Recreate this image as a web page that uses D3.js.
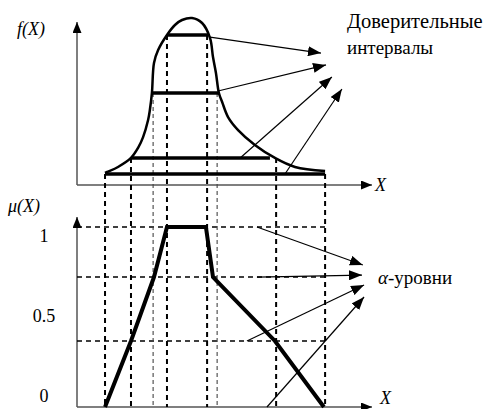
<!DOCTYPE html>
<html>
<head>
    <meta charset="utf-8">
    <script src="https://cdn.jsdelivr.net/npm/d3@7/dist/d3.min.js"></script>
    <style>
        body { margin: 0; background: #fff; }
    </style>
</head>
<body>
<div id="viz"></div>
<script>
// density curve f(X)
var curveX = [0.95, 1.02, 1.39, 1.83, 2.07, 2.24, 2.41, 2.47, 2.54, 2.61, 2.75, 3.05, 3.32, 3.56, 3.90,
              4.24, 4.51, 4.61, 4.71, 4.81, 4.92, 5.12, 5.46, 6.03, 6.71, 7.39, 8.41];
var curveF = [0.072, 0.078, 0.108, 0.162, 0.222, 0.287, 0.389, 0.449, 0.551, 0.731, 0.808, 0.898, 0.958, 0.988, 1.0,
              0.970, 0.880, 0.766, 0.671, 0.551, 0.497, 0.407, 0.329, 0.240, 0.162, 0.108, 0.084];

// confidence intervals (thick bars on the density)
var ciLevel = [0.898, 0.551, 0.162, 0.066];
var ciLeft  = [3.05, 2.54, 1.83, 0.95];
var ciRight = [4.44, 4.81, 6.54, 8.41];

// cut points projected down onto the membership function
var cutLeft  = [3.05, 2.58, 1.83, 0.95];
var cutRight = [4.41, 4.75, 6.75, 8.41];
var cutThin  = [false, true, false, false];

// alpha levels and membership function mu(X)
var alphaLevels = [1, 0.722, 0.367, 0];
var muX = [0.95, 1.83, 2.61, 3.05, 4.37, 4.61, 6.71, 8.37];
var muY = [0, 0.367, 0.722, 1, 1, 0.722, 0.367, 0];
var muTicks = [0, 0.5, 1];
var muTickLabels = ["0", "0.5", "1"];

// annotation arrows
var ciArrowFromX = [4.51, 4.78, 5.53, 7.05];
var ciArrowFromF = [0.886, 0.563, 0.162, 0.066];
var ciArrowToX   = [8.27, 8.44, 8.64, 8.98];
var ciArrowToF   = [0.790, 0.719, 0.647, 0.575];

var alphaArrowFromX  = [6.10, 6.10, 5.76, 6.44];
var alphaArrowFromMu = [1, 0.722, 0.367, 0];
var alphaArrowToX    = [9.69, 9.66, 9.73, 9.73];
var alphaArrowToMu   = [0.789, 0.733, 0.678, 0.611];

var W = 485, H = 409;
var SERIF = "'Liberation Serif', 'Times New Roman', Tinos, 'DejaVu Serif', serif";

var x  = d3.scaleLinear().domain([0, 10]).range([77, 372]);
var fy = d3.scaleLinear().domain([0, 1]).range([185, 18]);
var my = d3.scaleLinear().domain([0, 1]).range([407, 227]);
var labelY = d3.scaleLinear().domain([0, 1]).range([402, 242]);

var svg = d3.select("#viz").append("svg")
    .attr("width", W)
    .attr("height", H)
    .style("font-family", SERIF);

var defs = svg.append("defs");
defs.append("marker")
    .attr("id", "head")
    .attr("markerUnits", "userSpaceOnUse")
    .attr("markerWidth", 13).attr("markerHeight", 10)
    .attr("refX", 13).attr("refY", 5)
    .attr("orient", "auto")
    .append("path").attr("d", "M0,0 L13,5 L0,10 Z").attr("fill", "#000");
defs.append("marker")
    .attr("id", "axhead")
    .attr("markerUnits", "userSpaceOnUse")
    .attr("markerWidth", 11).attr("markerHeight", 9)
    .attr("refX", 11).attr("refY", 4.5)
    .attr("orient", "auto")
    .append("path").attr("d", "M0,0 L11,4.5 L0,9 Z").attr("fill", "#000");

// axes
function axisLine(x1, y1, x2, y2) {
    svg.append("line")
        .attr("x1", x1).attr("y1", y1).attr("x2", x2).attr("y2", y2)
        .attr("stroke", "#555").attr("stroke-width", 1.5)
        .attr("marker-end", "url(#axhead)");
}
axisLine(x(0), fy(0), x(0), 22);
axisLine(x(0), fy(0), x.range()[1], fy(0));
axisLine(x(0), my(0), x(0), 217);
axisLine(x(0), my(0), x.range()[1], my(0));

// dashed horizontal alpha levels
svg.selectAll(".alpha").data(alphaLevels.filter(function(d) { return d > 0; }))
    .enter().append("line")
    .attr("x1", x(0)).attr("x2", x(8.41))
    .attr("y1", function(d) { return my(d); })
    .attr("y2", function(d) { return my(d); })
    .attr("stroke", "#000").attr("stroke-width", 1.5)
    .attr("stroke-dasharray", "5,4");

// dashed verticals from intervals down to the bottom axis
var cuts = [];
ciLevel.forEach(function(l, i) {
    cuts.push({x: cutLeft[i], f: l, thin: cutThin[i]});
    cuts.push({x: cutRight[i], f: l, thin: cutThin[i]});
});
svg.selectAll(".cut").data(cuts).enter().append("line")
    .attr("x1", function(d) { return x(d.x); })
    .attr("x2", function(d) { return x(d.x); })
    .attr("y1", function(d) { return fy(d.f); })
    .attr("y2", my(0))
    .attr("stroke", function(d) { return d.thin ? "#444" : "#000"; })
    .attr("stroke-width", function(d) { return d.thin ? 1.1 : 2; })
    .attr("stroke-dasharray", function(d) { return d.thin ? "4,3" : "5,4"; });

// density curve
var pts = curveX.map(function(v, i) { return [v, curveF[i]]; });
svg.append("path")
    .attr("d", d3.line().x(function(d) { return x(d[0]); }).y(function(d) { return fy(d[1]); })
        .curve(d3.curveCatmullRom)(pts))
    .attr("fill", "none").attr("stroke", "#000").attr("stroke-width", 2.5);

// confidence interval bars
svg.selectAll(".ci").data(ciLevel).enter().append("line")
    .attr("x1", function(d, i) { return x(ciLeft[i]); })
    .attr("x2", function(d, i) { return x(ciRight[i]); })
    .attr("y1", function(d) { return fy(d); })
    .attr("y2", function(d) { return fy(d); })
    .attr("stroke", "#000").attr("stroke-width", 3.5);

// membership function
var mpts = muX.map(function(v, i) { return [v, muY[i]]; });
svg.append("path")
    .attr("d", d3.line().x(function(d) { return x(d[0]); }).y(function(d) { return my(d[1]); })(mpts))
    .attr("fill", "none").attr("stroke", "#000").attr("stroke-width", 4)
    .attr("stroke-linejoin", "miter");

// arrows
svg.selectAll(".ciarrow").data(ciArrowFromX).enter().append("line")
    .attr("x1", function(d) { return x(d); })
    .attr("y1", function(d, i) { return fy(ciArrowFromF[i]); })
    .attr("x2", function(d, i) { return x(ciArrowToX[i]); })
    .attr("y2", function(d, i) { return fy(ciArrowToF[i]); })
    .attr("stroke", "#000").attr("stroke-width", 1.2)
    .attr("marker-end", "url(#head)");
svg.selectAll(".alphaarrow").data(alphaArrowFromX).enter().append("line")
    .attr("x1", function(d) { return x(d); })
    .attr("y1", function(d, i) { return my(alphaArrowFromMu[i]); })
    .attr("x2", function(d, i) { return x(alphaArrowToX[i]); })
    .attr("y2", function(d, i) { return my(alphaArrowToMu[i]); })
    .attr("stroke", "#000").attr("stroke-width", 1.2)
    .attr("marker-end", "url(#head)");

// tick labels
svg.selectAll(".tick").data(muTicks).enter().append("text")
    .attr("x", 44)
    .attr("y", function(d) { return labelY(d); })
    .attr("text-anchor", "middle")
    .attr("font-family", SERIF)
    .attr("font-size", 18)
    .text(function(d, i) { return muTickLabels[i]; });

// labels
function label(px, py, size, italic, str) {
    return svg.append("text").attr("x", px).attr("y", py)
        .attr("font-family", SERIF).attr("font-size", size)
        .attr("font-style", italic ? "italic" : "normal").text(str);
}
label(17, 35, 18, true, "f(X)");
label(8, 212, 18, true, "μ(X)");
label(375, 191, 18, true, "X");
label(380, 404, 18, true, "X");
label(347, 28, 20.5, false, "Доверительные");
label(347, 54, 19, false, "интервалы");
var al = label(378, 284, 19, false, "");
al.append("tspan").attr("font-style", "italic").text("α");
al.append("tspan").text("-уровни");
</script>
</body>
</html>
